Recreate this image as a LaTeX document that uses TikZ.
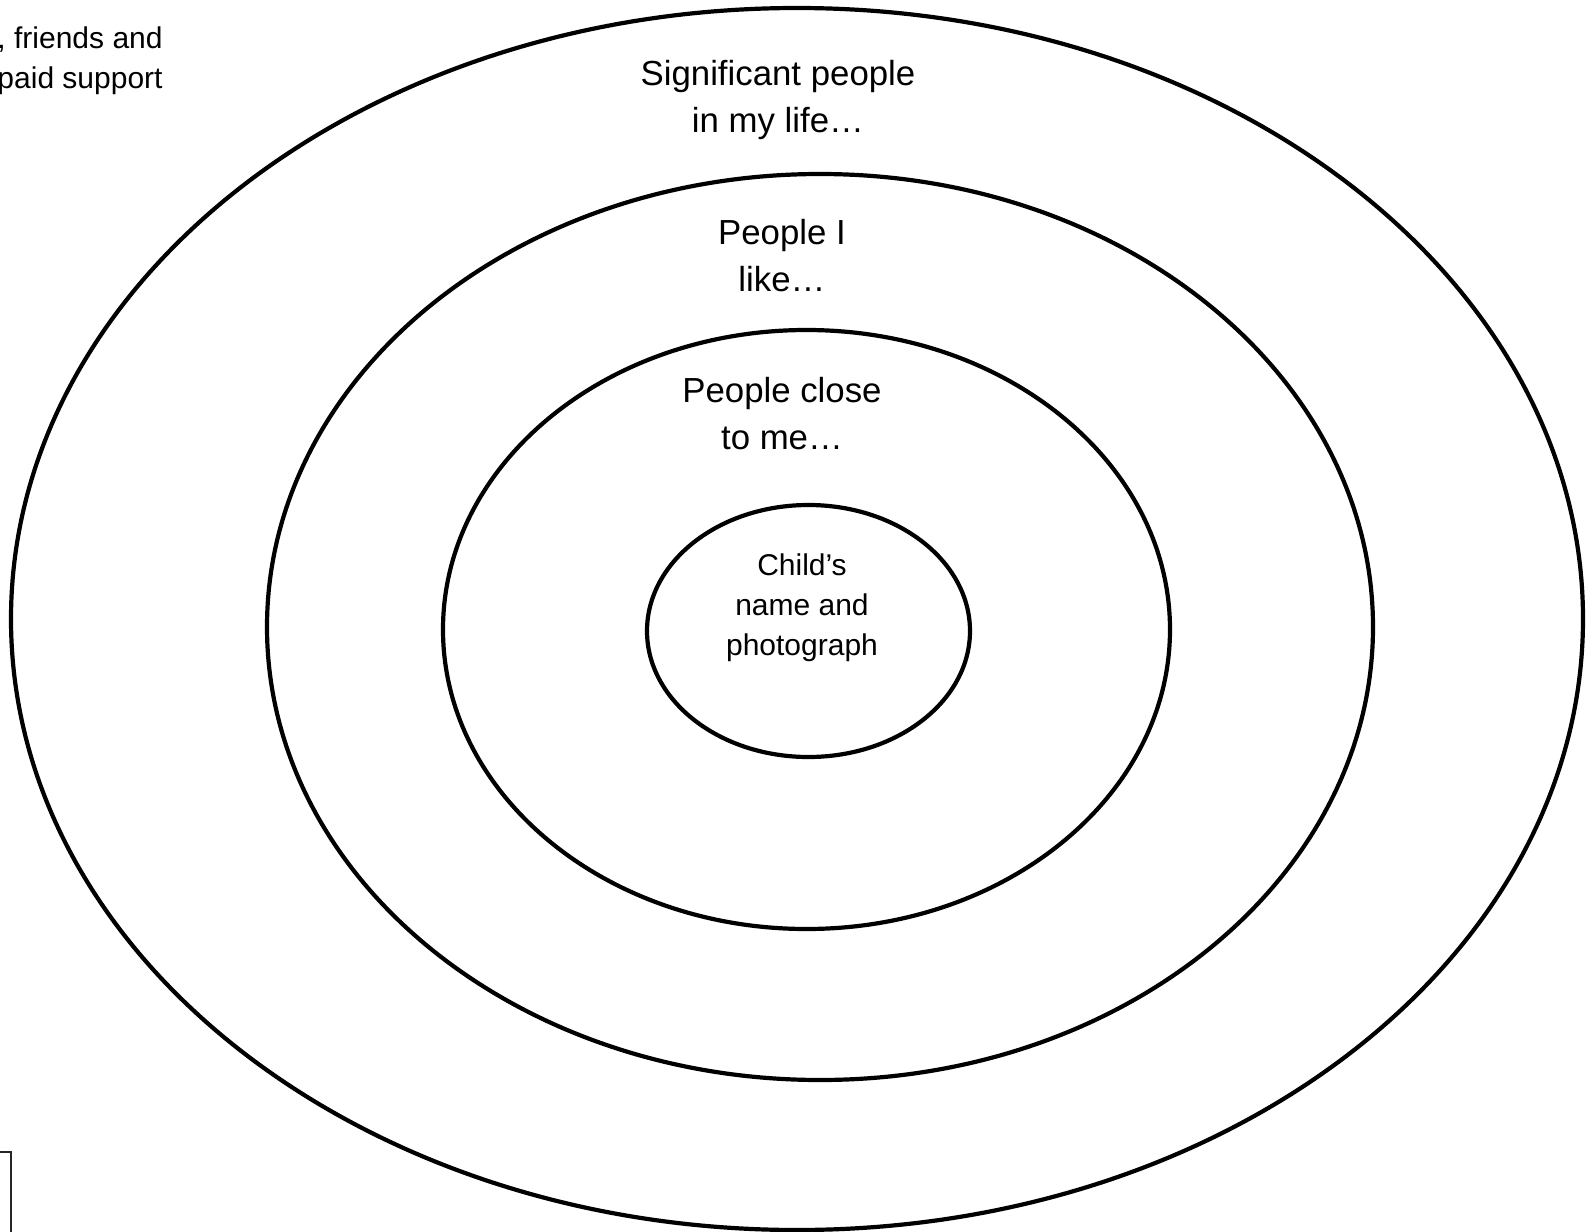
\documentclass[tikz,border=0pt]{standalone}
\usepackage{fontspec}
\setmainfont{Liberation Sans}
\usetikzlibrary{shapes.geometric}
\begin{document}
\begin{tikzpicture}[x=0.5pt,y=-0.5pt,
  ring/.style={draw=black, line width=2.1pt, ellipse, inner sep=0pt},
  biglabel/.style={inner sep=0pt, align=center, anchor=base, font=\fontsize{17.4}{23.5}\selectfont},
  smalllabel/.style={inner sep=0pt, align=center, anchor=base, font=\fontsize{15}{20}\selectfont}]
\useasboundingbox (0,0) rectangle (1587,1232);
\clip (0,0) rectangle (1587,1232);
\fill[white] (0,0) rectangle (1587,1232);
\node[ring, minimum width=786pt, minimum height=611pt] (outer) at (797,619) {};
\node[ring, minimum width=553pt, minimum height=453pt] (second) at (820,627) {};
\node[ring, minimum width=363.5pt, minimum height=299.5pt] (third) at (806.5,629.5) {};
\node[ring, minimum width=161.5pt, minimum height=126pt] (inner) at (808.5,631) {};
\node[biglabel] (l1) at (778,132) {Significant people\\in my life…};
\node[biglabel] (l2) at (782,291) {People I\\like…};
\node[biglabel] (l3) at (782,449) {People close\\to me…};
\node[smalllabel] (l4) at (802,655) {Child’s\\name and\\photograph};
\node[smalllabel, align=right, anchor=base east] (side) at (163,88) {, friends and\\paid support};
\draw[draw=black!85, line width=1pt] (-20,1152) rectangle (11,1260);
\end{tikzpicture}
\end{document}
